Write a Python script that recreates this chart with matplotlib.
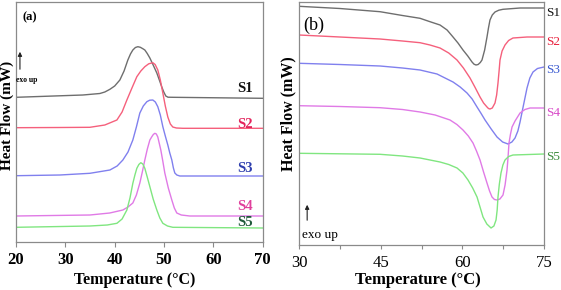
import matplotlib
matplotlib.use("Agg")
import matplotlib.pyplot as plt
from matplotlib.ticker import MultipleLocator

plt.rcParams['font.family'] = ['Liberation Serif', 'DejaVu Serif']

# ---------------- Panel (a): crystallisation (exo up) ----------------
a_S1_T = [20, 33.56, 37.0, 38.0, 39.03, 40.0, 41.05, 41.9, 42.67, 43.2, 43.68, 44.2, 44.7, 45.2, 45.7,
          46.11, 46.6, 47.13, 47.8, 48.54, 49.05, 49.55, 49.95, 50.36, 50.8, 51.78, 70]
a_S1_y = [14.47, 14.7, 14.85, 15.0, 15.27, 15.6, 16.2, 17.1, 18.2, 18.8, 19.2, 19.45, 19.53, 19.47, 19.33,
          19.2, 18.85, 18.4, 17.7, 16.9, 16.2, 15.5, 15.0, 14.6, 14.48, 14.47, 14.37]

a_S2_T = [20, 28.9, 34.98, 38.0, 40.45, 41.5, 42.47, 43.5, 44.49, 45.3, 46.11, 46.9, 47.73, 48.2, 48.74,
          49.25, 49.76, 50.26, 50.77, 51.28, 51.78, 52.5, 53.8, 70]
a_S2_y = [11.43, 11.45, 11.47, 11.7, 12.2, 13.0, 14.2, 15.4, 16.53, 17.1, 17.53, 17.82, 17.93, 17.75, 17.2,
          16.2, 14.9, 13.6, 12.5, 11.8, 11.5, 11.4, 11.37, 11.37]

a_S3_T = [20, 28.9, 34.98, 39.03, 40.5, 41.66, 42.7, 43.68, 44.4, 45.1, 45.8, 46.52, 47.1, 47.73, 48.24,
          48.74, 49.25, 49.76, 50.26, 50.77, 51.17, 51.58, 51.9, 52.19, 52.6, 53.2, 70]
a_S3_y = [6.63, 6.7, 6.87, 7.2, 7.6, 8.2, 9.0, 10.2, 11.5, 12.9, 13.6, 14.03, 14.18, 14.2, 14.0,
          13.53, 12.7, 11.53, 10.6, 9.7, 8.9, 8.2, 7.4, 6.9, 6.7, 6.6, 6.6]

a_S4_T = [20, 34.98, 39.0, 41.66, 42.7, 43.68, 44.4, 45.1, 45.6, 46.11, 46.62, 47.13, 47.53, 47.83, 48.14,
          48.44, 48.74, 49.35, 49.75, 50.16, 50.87, 51.58, 52.09, 52.59, 53.5, 55.22, 70]
a_S4_y = [2.6, 2.7, 2.9, 3.2, 3.5, 3.9, 4.7, 5.9, 7.0, 8.2, 9.3, 10.2, 10.53, 10.75, 10.87,
          10.8, 10.5, 9.2, 8.1, 6.9, 5.4, 4.2, 3.4, 2.9, 2.7, 2.6, 2.6]

a_S5_T = [20, 34.98, 38.5, 40.45, 41.5, 42.47, 43.1, 43.68, 44.1, 44.49, 44.9, 45.3, 45.7, 46.11, 46.6,
          47.13, 47.8, 48.54, 49.15, 49.76, 50.7, 51.78, 70]
a_S5_y = [1.47, 1.6, 1.7, 1.87, 2.3, 3.2, 4.4, 5.87, 6.7, 7.37, 7.75, 7.93, 7.8, 7.37, 6.5,
          5.53, 4.3, 3.2, 2.4, 1.87, 1.6, 1.47, 1.4]

a_labels = ['S1', 'S2', 'S3', 'S4', 'S5']
a_label_y = [15.3, 11.7, 7.4, 3.6, 2.0]
a_xticks = [20, 30, 40, 50, 60, 70]

# ---------------- Panel (b): melting (endo down) ----------------
b_S1_T = [30, 37.5, 44.88, 49.0, 52.23, 54.06, 55.9, 57.2, 58.29, 59.2, 60.12, 61.0, 61.78, 62.15, 62.51,
          62.9, 63.3, 63.61, 64.1, 64.53, 64.8, 65.08, 65.5, 66.0, 66.7, 67.47, 70.6, 75]
b_S1_y = [23.87, 23.65, 23.33, 22.95, 22.67, 22.33, 22.0, 21.5, 20.8, 20.2, 19.5, 18.9, 18.3, 18.08, 18.0,
          18.05, 18.25, 18.5, 19.5, 20.8, 21.7, 22.5, 23.0, 23.3, 23.48, 23.57, 23.7, 23.7]

b_S2_T = [30, 37.5, 44.88, 49.0, 52.23, 54.06, 55.9, 57.5, 59.02, 60.2, 61.41, 62.3, 63.25, 63.9, 64.53,
          64.8, 65.08, 65.5, 66.0, 66.3, 66.55, 66.75, 66.92, 67.3, 67.84, 68.5, 69.3, 71.9, 75]
b_S2_y = [21.0, 20.8, 20.6, 20.4, 20.23, 20.0, 19.7, 19.2, 18.5, 17.7, 16.7, 15.8, 14.8, 14.2, 13.8,
          13.65, 13.6, 13.7, 14.2, 15.0, 16.2, 17.4, 18.5, 19.4, 20.0, 20.45, 20.7, 20.8, 20.8]

b_S3_T = [30, 37.5, 44.88, 49.0, 52.23, 55.35, 58.29, 59.6, 60.86, 61.8, 62.7, 63.45, 64.17, 65.3, 66.37,
          67.4, 68.39, 69.1, 69.68, 70.2, 70.6, 71.2, 71.88, 72.4, 72.98, 73.8, 75]
b_S3_y = [18.17, 18.05, 17.9, 17.7, 17.5, 17.1, 16.3, 15.8, 15.2, 14.6, 13.8, 13.15, 12.5, 11.6, 10.8,
          10.3, 10.1, 10.3, 10.7, 11.4, 12.3, 13.9, 15.7, 16.7, 17.3, 17.65, 17.8]

b_S4_T = [30, 37.5, 44.88, 49.0, 52.23, 55.0, 57.74, 59.0, 60.12, 61.1, 61.96, 62.6, 63.25, 63.9, 64.53,
          65.0, 65.45, 65.9, 66.37, 66.9, 67.47, 67.85, 68.21, 68.4, 68.57, 68.85, 69.13, 69.68, 70.6,
          71.5, 72.43, 75]
b_S4_y = [13.93, 13.85, 13.73, 13.55, 13.3, 13.0, 12.5, 12.05, 11.5, 10.9, 10.2, 9.4, 8.5, 7.3, 6.2,
          5.4, 4.8, 4.55, 4.5, 4.6, 5.0, 6.0, 7.5, 8.8, 10.2, 11.1, 11.8, 12.4, 13.2,
          13.55, 13.7, 13.7]

b_S5_T = [30, 37.5, 44.88, 49.0, 52.23, 55.9, 57.5, 59.02, 60.1, 61.04, 61.9, 62.7, 63.25, 63.8, 64.5,
          65.27, 65.8, 66.19, 66.4, 66.55, 66.8, 67.1, 67.45, 67.84, 68.5, 69.3, 75]
b_S5_y = [9.17, 9.12, 9.07, 8.9, 8.7, 8.3, 8.05, 7.7, 7.2, 6.5, 5.7, 4.8, 3.8, 2.8, 2.1,
          1.7, 1.9, 2.5, 3.5, 4.8, 6.1, 7.2, 8.0, 8.5, 8.85, 9.0, 9.1]

b_labels = ['S1', 'S2', 'S3', 'S4', 'S5']
b_label_y = [23.23, 20.33, 17.5, 13.23, 8.83]
b_xticks = [30, 45, 60, 75]

line_colors = ['#6e6e6e', '#f5607c', '#8080ee', '#e07ae6', '#80e680']
a_label_colors = ['#111111', '#e3245c', '#2f3fae', '#e0409c', '#1f5a3a']
b_label_colors = ['#111111', '#e8203c', '#3a5ad0', '#d848c8', '#3a8a3a']
spine_color = '#8a8a8a'

fig = plt.figure(figsize=(5.61, 2.90), dpi=100)

# ---- (a)
axa = fig.add_axes([16/561, 48/290, 246.7/561, 240/290])
a_T = [a_S1_T, a_S2_T, a_S3_T, a_S4_T, a_S5_T]
a_Y = [a_S1_y, a_S2_y, a_S3_y, a_S4_y, a_S5_y]
for T, Y, c in zip(a_T, a_Y, line_colors):
    axa.plot(T, Y, color=c, lw=1.0)
axa.set_xlim(20, 70)
axa.set_ylim(0, 24)
axa.set_xticks(a_xticks)
axa.set_yticks([])
axa.tick_params(axis='x', direction='out', length=3.5, width=0.8, color=spine_color, pad=4)
for lab in axa.get_xticklabels():
    lab.set_fontweight('bold')
    lab.set_fontsize(12)
for s in axa.spines.values():
    s.set_color(spine_color)
    s.set_linewidth(0.9)
for lab, y, c in zip(a_labels, a_label_y, a_label_colors):
    axa.text(66.4, y, lab, color=c, fontsize=10.5, fontweight='bold', ha='center', va='center')
axa.text(21.3, 22.5, '(a)', fontsize=9, fontweight='bold', ha='left', va='center')
axa.annotate('', xy=(20.8, 19.3), xytext=(20.8, 17.0),
             arrowprops=dict(arrowstyle='-|>', color='#222222', lw=0.8, mutation_scale=6))
axa.text(20.1, 16.2, 'exo up', fontsize=5.5, fontweight='bold', ha='left', va='center')

# ---- (b)
axb = fig.add_axes([299/561, 45/290, 245/561, 243/290])
b_T = [b_S1_T, b_S2_T, b_S3_T, b_S4_T, b_S5_T]
b_Y = [b_S1_y, b_S2_y, b_S3_y, b_S4_y, b_S5_y]
for T, Y, c in zip(b_T, b_Y, line_colors):
    axb.plot(T, Y, color=c, lw=1.0)
axb.set_xlim(30, 75)
axb.set_ylim(0, 24.3)
axb.set_xticks(b_xticks)
axb.xaxis.set_minor_locator(MultipleLocator(7.5))
axb.set_yticks([])
axb.tick_params(axis='x', which='both', direction='out', length=3, width=0.8, color=spine_color, pad=4)
for lab in axb.get_xticklabels():
    lab.set_fontsize(12)
for s in axb.spines.values():
    s.set_color(spine_color)
    s.set_linewidth(0.9)
for lab, y, c in zip(b_labels, b_label_y, b_label_colors):
    axb.text(75.45, y, lab, color=c, fontsize=9.5, ha='left', va='center', clip_on=False)
axb.text(30.7, 22.0, '(b)', fontsize=13, ha='left', va='center')
axb.annotate('', xy=(31.5, 4.3), xytext=(31.5, 2.2),
             arrowprops=dict(arrowstyle='-|>', color='#222222', lw=0.8, mutation_scale=6))
axb.text(30.5, 1.0, 'exo up', fontsize=9.5, ha='left', va='center')

# ---- axis titles
fig.text(7.5/561, 1 - 115/290, 'Heat Flow (mW)', rotation=90, fontsize=11, fontweight='bold',
         ha='center', va='center')
fig.text(288/561, 1 - 114/290, 'Heat Flow (mW)', rotation=90, fontsize=11.5, fontweight='bold',
         ha='center', va='center')
fig.text(135/561, 1 - 280/290, 'Temperature (\u00b0C)', fontsize=11.5, fontweight='bold',
         ha='center', va='center')
fig.text(418/561, 1 - 280/290, 'Temperature (\u00b0C)', fontsize=12, fontweight='bold',
         ha='center', va='center')

fig.savefig('out.png', dpi=100)
